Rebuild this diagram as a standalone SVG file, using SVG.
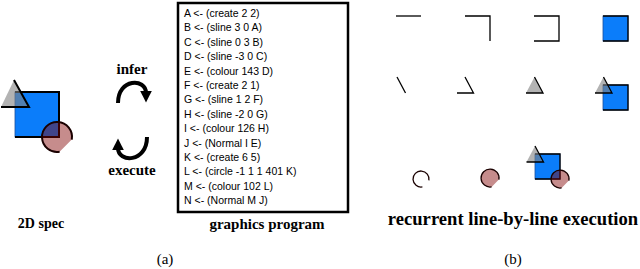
<svg xmlns="http://www.w3.org/2000/svg" width="640" height="269" viewBox="0 0 640 269">
<style>
.lbl{font-family:"Liberation Serif",serif;font-weight:bold;font-size:15px;text-anchor:middle;fill:#000}
.cap{font-family:"Liberation Serif",serif;font-size:15px;text-anchor:middle;fill:#000}
.code{font-family:"Liberation Sans",Arial,sans-serif;font-size:10.5px;fill:#000}
.ln{fill:none;stroke:#000;stroke-width:1.3;stroke-linecap:butt;stroke-linejoin:miter}
.lnb{fill:none;stroke:#000;stroke-width:2;stroke-linejoin:miter}
.sq{fill:#0b7dfa;stroke:#1d4f9c;stroke-width:0.8}
.tri{fill:#808080;fill-opacity:0.6;stroke:none}
.pie{fill:#800000;fill-opacity:0.45;stroke:none}
.arc{fill:none;stroke:#1a0000;stroke-width:1.3}
.arcb{fill:none;stroke:#1a0000;stroke-width:2}
.arrow{fill:none;stroke:#000;stroke-width:4}
</style>
<defs>
<marker id="ah" viewBox="0 0 10 10" refX="2" refY="5" markerWidth="3" markerHeight="3" orient="auto" markerUnits="strokeWidth">
<path d="M0,0 L10,5 L0,10 Z" fill="#000"/>
</marker>
</defs>
<rect width="640" height="269" fill="#fff"/>

<g id="spec">
<rect class="sq" x="15" y="92" width="44" height="45"/>
<path class="lnb" d="M15,92 H59 V137 H15"/>
<path class="tri" d="M14,80 L29,107 H1 Z"/>
<path class="lnb" d="M14,80 L29,107 H1"/>
<path class="pie" d="M71.8,139.6 A15 15 0 1 0 59.6,151.8 Z"/>
<path class="arcb" d="M71.8,139.6 A15 15 0 1 0 59.6,151.8"/>
<text class="lbl" x="41" y="228" style="font-size:14px">2D spec</text>
</g>

<g id="connectors">
<path class="arrow" d="M118,103 C118,78 146,78 146,93" marker-end="url(#ah)"/>
<path class="arrow" d="M147,137 C147,163 118,163 118,148" marker-end="url(#ah)"/>
</g>
<g id="infer"><text class="lbl" x="132" y="74">infer</text></g>
<g id="execute"><text class="lbl" x="132" y="175">execute</text></g>

<g id="program">
<rect x="178" y="3" width="170" height="209" fill="#fff" stroke="#000" stroke-width="2.5"/>
<text class="code" x="184" y="17">A &lt;- (create 2 2)</text>
<text class="code" x="184" y="31.4">B &lt;- (sline 3 0 A)</text>
<text class="code" x="184" y="45.8">C &lt;- (sline 0 3 B)</text>
<text class="code" x="184" y="60.2">D &lt;- (sline -3 0 C)</text>
<text class="code" x="184" y="74.6">E &lt;- (colour 143 D)</text>
<text class="code" x="184" y="89">F &lt;- (create 2 1)</text>
<text class="code" x="184" y="103.4">G &lt;- (sline 1 2 F)</text>
<text class="code" x="184" y="117.8">H &lt;- (sline -2 0 G)</text>
<text class="code" x="184" y="132.2">I  &lt;- (colour 126 H)</text>
<text class="code" x="184" y="146.6">J &lt;- (Normal I E)</text>
<text class="code" x="184" y="161">K &lt;- (create 6 5)</text>
<text class="code" x="184" y="175.4">L &lt;- (circle -1 1 1 401 K)</text>
<text class="code" x="184" y="189.8">M &lt;- (colour 102 L)</text>
<text class="code" x="184" y="204.2">N &lt;- (Normal M J)</text>
<text class="lbl" x="267" y="229">graphics program</text>
</g>

<g id="exec">
<path class="ln" d="M396,16 H421"/>
<path class="ln" d="M465,16 H490 V41"/>
<path class="ln" d="M534,16 H559 V41 H534"/>
<rect class="sq" x="603" y="16" width="25" height="25"/>
<path class="ln" d="M603,16 H628 V41 H603"/>

<path class="ln" d="M397,77 L405.5,93"/>
<path class="ln" d="M465,77 L473.5,93 H457"/>
<path class="tri" d="M534.5,77 L543,93 H526 Z"/>
<path class="ln" d="M534.5,77 L543,93 H526"/>
<rect class="sq" x="603" y="85" width="25" height="25"/>
<path class="ln" d="M603,85 H628 V110 H603"/>
<path class="tri" d="M603.5,77 L612,93 H595 Z"/>
<path class="ln" d="M603.5,77 L612,93 H595"/>

<path class="arc" d="M428.9,180.4 A8 8 0 1 0 422.4,186.9"/>
<path class="pie" d="M498.9,179.6 A9 9 0 1 0 491.6,186.9 Z"/>
<path class="arc" d="M498.9,179.6 A9 9 0 1 0 491.6,186.9"/>
<rect class="sq" x="535" y="154" width="25" height="25"/>
<path class="ln" d="M535,154 H560 V179 H535"/>
<path class="tri" d="M535,146 L543.5,162 H526.5 Z"/>
<path class="ln" d="M535,146 L543.5,162 H526.5"/>
<path class="pie" d="M568.9,180.6 A9 9 0 1 0 561.6,187.9 Z"/>
<path class="arc" d="M568.9,180.6 A9 9 0 1 0 561.6,187.9"/>
<text class="lbl" x="513" y="225" style="font-size:18.6px">recurrent line-by-line execution</text>
</g>

<g id="captions">
<text class="cap" x="165" y="264">(a)</text>
<text class="cap" x="513" y="264">(b)</text>
</g>
</svg>
